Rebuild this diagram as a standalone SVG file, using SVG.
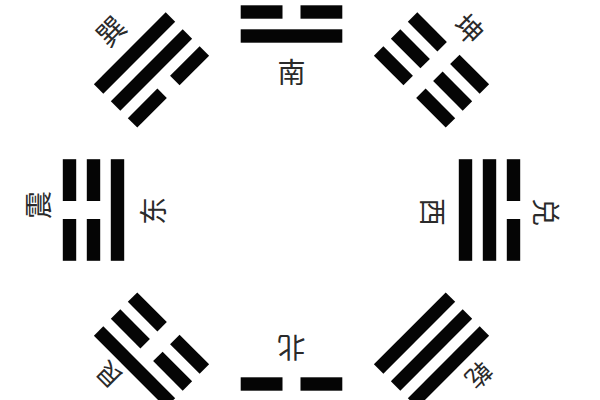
<svg xmlns="http://www.w3.org/2000/svg" xmlns:xlink="http://www.w3.org/1999/xlink" width="600" height="400" viewBox="0 0 600 400">
  <style>
    .bar { fill: #050505; }
    .lbl { font-family: "Noto Sans CJK SC", "Noto Sans", sans-serif; font-size: 28px; fill: #2a2a2a; text-anchor: middle; dominant-baseline: central; }
    .sm { font-size: 25px; }
  </style>
  <defs>
    <rect id="solid" class="bar" x="-50.8" y="0" width="101.6" height="13.4"/>
    <g id="broken">
      <rect class="bar" x="-50.8" y="0" width="41.8" height="13.4"/>
      <rect class="bar" x="9" y="0" width="41.8" height="13.4"/>
    </g>
  </defs>
  <rect x="0" y="0" width="600" height="400" fill="#ffffff"/>

  <!-- top: 离 -->
  <g id="li" transform="translate(291.5,210)">
    <use xlink:href="#solid" y="-180.7"/>
    <use xlink:href="#broken" y="-204.7"/>
    <use xlink:href="#solid" y="-228.7"/>
  </g>
  <!-- top-right: 坤 -->
  <g id="kun" transform="translate(291.5,210) rotate(45)">
    <use xlink:href="#broken" y="-180.7"/>
    <use xlink:href="#broken" y="-204.7"/>
    <use xlink:href="#broken" y="-228.7"/>
  </g>
  <!-- right: 兑 -->
  <g id="dui" transform="translate(291.5,210) rotate(90)">
    <use xlink:href="#solid" y="-180.7"/>
    <use xlink:href="#solid" y="-204.7"/>
    <use xlink:href="#broken" y="-228.7"/>
  </g>
  <!-- bottom-right: 乾 -->
  <g id="qian" transform="translate(291.5,210) rotate(135)">
    <use xlink:href="#solid" y="-180.7"/>
    <use xlink:href="#solid" y="-204.7"/>
    <use xlink:href="#solid" y="-228.7"/>
  </g>
  <!-- bottom: 坎 -->
  <g id="kan" transform="translate(291.5,210) rotate(180)">
    <use xlink:href="#broken" y="-180.7"/>
    <use xlink:href="#solid" y="-204.7"/>
    <use xlink:href="#broken" y="-228.7"/>
  </g>
  <!-- bottom-left: 艮 -->
  <g id="gen" transform="translate(291.5,210) rotate(225)">
    <use xlink:href="#broken" y="-180.7"/>
    <use xlink:href="#broken" y="-204.7"/>
    <use xlink:href="#solid" y="-228.7"/>
  </g>
  <!-- left: 震 -->
  <g id="zhen" transform="translate(291.5,210) rotate(270)">
    <use xlink:href="#solid" y="-180.7"/>
    <use xlink:href="#broken" y="-204.7"/>
    <use xlink:href="#broken" y="-228.7"/>
  </g>
  <!-- top-left: 巽 -->
  <g id="xun" transform="translate(291.5,210) rotate(315)">
    <use xlink:href="#broken" y="-180.7"/>
    <use xlink:href="#solid" y="-204.7"/>
    <use xlink:href="#solid" y="-228.7"/>
  </g>

  <g id="labels">
    <text class="lbl" transform="translate(291.5,71)">南</text>
    <text class="lbl" transform="translate(291.5,349) rotate(180)">北</text>
    <text class="lbl" transform="translate(152,211) rotate(-90)">东</text>
    <text class="lbl" transform="translate(37,205) rotate(-90)">震</text>
    <text class="lbl" transform="translate(434,212) rotate(90)">西</text>
    <text class="lbl" transform="translate(547,212) rotate(90)">兑</text>
    <text class="lbl" transform="translate(110,30) rotate(-45)">巽</text>
    <text class="lbl" transform="translate(470,28) rotate(45)">坤</text>
    <text class="lbl sm" transform="translate(108,376) rotate(-135)">艮</text>
    <text class="lbl sm" transform="translate(480,376) rotate(135)">乾</text>
  </g>
</svg>
